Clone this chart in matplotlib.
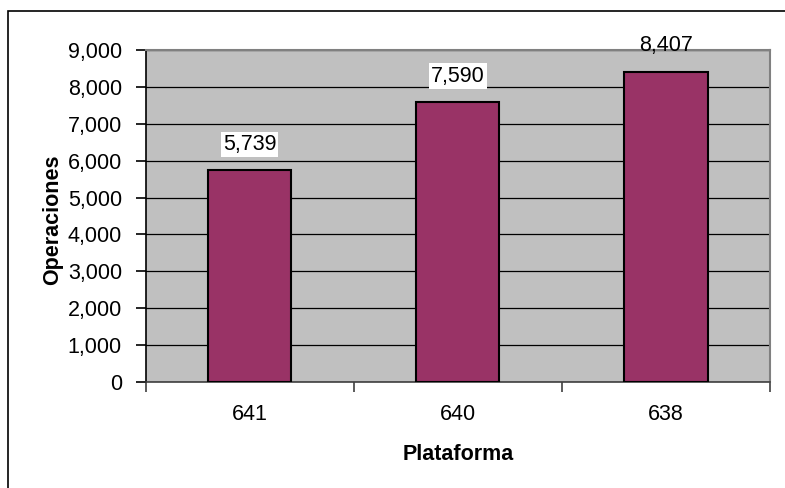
import matplotlib.pyplot as plt
from matplotlib.patches import Rectangle

plt.rcParams["font.family"] = ["Liberation Sans", "DejaVu Sans"]

# datos
plataformas = ["641", "640", "638"]
operaciones = [5739, 7590, 8407]
etiquetas = ["5,739", "7,590", "8,407"]
y_ticks = [0, 1000, 2000, 3000, 4000, 5000, 6000, 7000, 8000, 9000]
y_tick_labels = ["0", "1,000", "2,000", "3,000", "4,000", "5,000",
                 "6,000", "7,000", "8,000", "9,000"]

W, H = 785, 488
fig = plt.figure(figsize=(W / 100, H / 100), dpi=100)

# marco exterior del grafico (solo se ven el borde superior e izquierdo)
fig.patches.append(Rectangle((8 / W, -0.1), 1, 1.1 - 11 / H, transform=fig.transFigure,
                             fill=False, edgecolor="black", linewidth=1.2))

ax = fig.add_axes([145.5 / W, 1 - 382 / H, (770 - 145.5) / W, (382 - 50) / H])
ax.set_facecolor("#C0C0C0")

x = range(len(plataformas))
ax.bar(x, operaciones, width=0.40, color="#993366", edgecolor="black",
       linewidth=1.5, zorder=3)

ax.set_xlim(-0.5, 2.5)
ax.set_ylim(0, 9000)
ax.set_yticks(y_ticks)
ax.set_yticklabels(y_tick_labels, fontsize=15.5)
ax.yaxis.grid(True, color="black", linewidth=0.9, zorder=1)
ax.set_axisbelow(True)

# ticks en los limites de categoria, etiquetas centradas
ax.set_xticks([-0.5, 0.5, 1.5, 2.5])
ax.set_xticklabels([])
ax.set_xticks(list(x), minor=True)
ax.set_xticklabels(plataformas, minor=True, fontsize=15.5)
ax.tick_params(axis="x", which="minor", length=0, pad=16)
ax.tick_params(axis="x", which="major", length=7, color="#404040", width=1.2)
ax.tick_params(axis="y", length=7, width=1.2, pad=10)

for side in ["top", "right"]:
    ax.spines[side].set_color("#808080")
    ax.spines[side].set_linewidth(1.5)
ax.spines["left"].set_color("black")
ax.spines["bottom"].set_color("#404040")
ax.spines["left"].set_linewidth(1.2)
ax.spines["bottom"].set_linewidth(1.2)

# etiquetas de valor
for i, (v, t) in enumerate(zip(operaciones, etiquetas)):
    bbox = dict(facecolor="white", edgecolor="none", pad=1.5) if i < 2 else None
    ax.annotate(t, (i, v), xytext=(0, 26), textcoords="offset pixels",
                ha="center", va="center", fontsize=15.5, bbox=bbox,
                annotation_clip=False, zorder=5)

fig.text(458 / W, 1 - 454 / H, "Plataforma", ha="center", va="center",
         fontsize=15.5, fontweight="bold")
fig.text(53 / W, 1 - 220 / H, "Operaciones", ha="center", va="center",
         rotation=90, fontsize=15.5, fontweight="bold")

plt.savefig("out.png", dpi=100)
